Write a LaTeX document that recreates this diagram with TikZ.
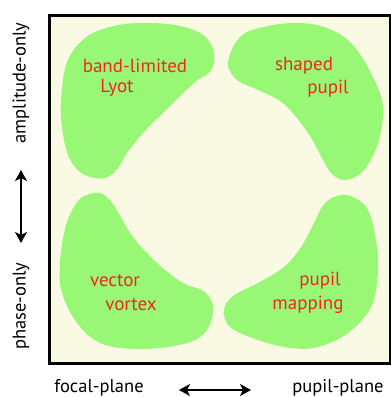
\documentclass[tikz,border=0pt]{standalone}
\usepackage{fontspec}
\setmainfont{PT Sans}
\usetikzlibrary{arrows.meta}
\definecolor{cream}{RGB}{250,250,228}
\definecolor{blob}{RGB}{153,247,118}
\definecolor{lbl}{RGB}{240,40,30}
\tikzset{
  blobfill/.style={fill=blob,draw=none},
  redlbl/.style={text=lbl,font=\fontsize{19}{21}\selectfont,inner sep=0pt},
  axlbl/.style={text=black,font=\fontsize{18.5}{21}\selectfont,inner sep=0pt},
  dblarrow/.style={{Stealth[length=11pt,width=12pt,inset=3pt]}-{Stealth[length=11pt,width=12pt,inset=3pt]},line width=1.1pt},
}
\begin{document}
\begin{tikzpicture}[x=1pt,y=-1pt]
\useasboundingbox (0,0) rectangle (391,397);
\fill[white] (0,0) rectangle (391,397);
\draw[fill=cream,line width=3pt] (49,15.5) rectangle (390.5,363.5);
% top-left blob
\fill[blobfill] plot[smooth cycle,tension=0.6] coordinates {
 (61,100) (67,62) (85,38) (110,27) (140,23) (175,25) (200,33) (212,46) (214,62)
 (208,74) (195,82) (167,109) (143,133) (127,153) (118,168) (108,177) (95,178)
 (80,172) (68,155) (62,127)};
% top-right blob
\fill[blobfill] plot[smooth cycle,tension=0.6] coordinates {
 (228,62) (236,42) (252,30) (291,23) (324,27) (351,43) (372,75) (383,107)
 (378,143) (364,170) (346,180) (332,174) (322,158) (308,133) (284,104)
 (258,90) (240,82) (231,73)};
% bottom-left blob
\fill[blobfill] plot[smooth cycle,tension=0.6] coordinates {
 (100,193) (110,200) (118,212) (133,237) (157,263) (183,283) (202,290)
 (211,300) (213,313) (207,330) (193,341) (167,347) (133,349) (100,343)
 (77,323) (62,293) (60,263) (66,225) (78,201) (90,194)};
% bottom-right blob
\fill[blobfill] plot[smooth cycle,tension=0.6] coordinates {
 (341,195) (325,203) (314,223) (301,247) (284,267) (258,283) (233,296)
 (224,310) (230,327) (258,340) (291,348) (318,347) (348,333) (371,307)
 (378,273) (376,240) (368,210) (355,198)};
% labels
\node[redlbl] (bl1) at (135,66) {band-limited};
\node[redlbl] (bl2) at (117,88) {Lyot};
\node[redlbl] (sp1) at (304,66) {shaped};
\node[redlbl] (sp2) at (328,89) {pupil};
\node[redlbl] (vv1) at (115,281) {vector};
\node[redlbl] (vv2) at (131,305) {vortex};
\node[redlbl] (pm1) at (320,281) {pupil};
\node[redlbl] (pm2) at (308,305) {mapping};
\node[axlbl,rotate=90] (amp) at (21,83) {amplitude-only};
\node[axlbl,rotate=90] (pho) at (21,306) {phase-only};
\node[axlbl] (foc) at (99,388) {focal-plane};
\node[axlbl] (pup) at (338,388) {pupil-plane};
% arrows
\coordinate (vt) at (21,170);
\coordinate (vb) at (21,243);
\coordinate (hl) at (179,390);
\coordinate (hr) at (251,390);
\draw[dblarrow] (vt) -- (vb);
\draw[dblarrow] (hl) -- (hr);
\end{tikzpicture}
\end{document}
